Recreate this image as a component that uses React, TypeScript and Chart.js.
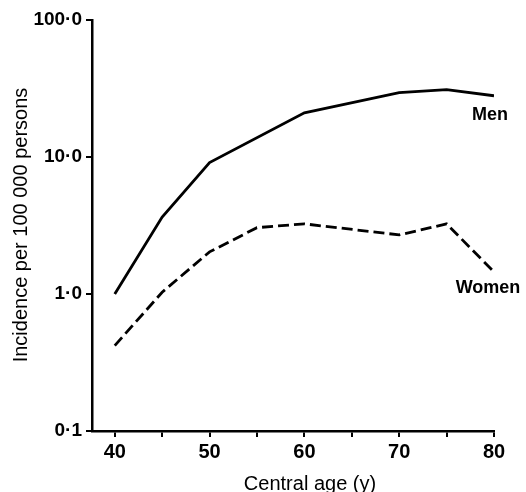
import React, { useEffect, useRef } from "react";
import { Chart, registerables } from "chart.js";

Chart.register(...registerables);

const ages = [40, 45, 50, 55, 60, 65, 70, 75, 80];
const menValues: (number | null)[] = [1.0, 3.65, 9.1, null, 21, null, 29.5, 31, 28];
const womenValues: (number | null)[] = [0.42, 1.03, 2.03, 3.05, 3.25, null, 2.7, 3.25, 1.45];
const xTickValues = [40, 45, 50, 55, 60, 65, 70, 75, 80];
const xMajorTicks = [40, 50, 60, 70, 80];
const yTickValues = [0.1, 1, 10, 100];
const yTickLabels = ["0·1", "1·0", "10·0", "100·0"];
const seriesNames = ["Men", "Women"];
const xTitle = "Central age (y)";
const yTitle = "Incidence per 100 000 persons";

const FONT = "'Liberation Sans', Arial, Helvetica, sans-serif";

export default function App() {
  const ref = useRef<HTMLCanvasElement | null>(null);

  useEffect(() => {
    document.body.style.margin = "0";
    const canvas = ref.current;
    if (!canvas) return;

    const labelPlugin = {
      id: "labels",
      afterDraw(chart: any) {
        const ctx = chart.ctx;
        const xs = chart.scales.x;
        const ys = chart.scales.y;
        ctx.save();
        ctx.fillStyle = "#000";
        ctx.textAlign = "center";
        ctx.textBaseline = "middle";
        ctx.font = `bold 18px ${FONT}`;
        const lastX = xs.getPixelForValue(ages[ages.length - 1]);
        const menY = ys.getPixelForValue(menValues[menValues.length - 1] as number);
        const womenY = ys.getPixelForValue(womenValues[womenValues.length - 1] as number);
        ctx.fillText(seriesNames[0], lastX - 4, menY + 19);
        ctx.fillText(seriesNames[1], lastX - 6, womenY + 16);
        ctx.font = `20px ${FONT}`;
        ctx.fillText(xTitle, 310, 484);
        ctx.translate(21, 225);
        ctx.rotate(-Math.PI / 2);
        ctx.fillText(yTitle, 0, 0);
        ctx.restore();
      },
    };

    const chart = new Chart(canvas, {
      type: "line",
      data: {
        datasets: [
          {
            label: seriesNames[0],
            data: ages.map((a, i) => ({ x: a, y: menValues[i] })) as any,
            borderColor: "#000",
            borderWidth: 2.8,
            pointRadius: 0,
            tension: 0,
            spanGaps: true,
          },
          {
            label: seriesNames[1],
            data: ages.map((a, i) => ({ x: a, y: womenValues[i] })) as any,
            borderColor: "#000",
            borderWidth: 2.8,
            borderDash: [11, 5],
            pointRadius: 0,
            tension: 0,
            spanGaps: true,
          },
        ],
      },
      options: {
        responsive: false,
        animation: false,
        layout: { padding: { top: 20, right: 32, left: 0, bottom: 0 } },
        plugins: { legend: { display: false }, tooltip: { enabled: false } },
        scales: {
          x: {
            type: "linear",
            min: 37.6,
            max: 80,
            afterBuildTicks: (s: any) => {
              s.ticks = xTickValues.map((v) => ({ value: v }));
            },
            afterFit: (s: any) => {
              s.height = 61;
            },
            ticks: {
              autoSkip: false,
              maxRotation: 0,
              padding: 3,
              color: "#000",
              font: { family: FONT, size: 20, weight: "bold" },
              callback: (v: any) => (xMajorTicks.includes(Number(v)) ? String(v) : ""),
            },
            grid: {
              drawOnChartArea: false,
              drawTicks: true,
              tickLength: 6,
              color: "#000",
              lineWidth: 2,
            },
            border: { display: true, color: "#000", width: 2.5 },
          },
          y: {
            type: "logarithmic",
            min: 0.1,
            max: 100,
            afterBuildTicks: (s: any) => {
              s.ticks = yTickValues.map((v) => ({ value: v }));
            },
            afterFit: (s: any) => {
              s.width = 92;
            },
            ticks: {
              autoSkip: false,
              padding: 4,
              color: "#000",
              font: { family: FONT, size: 19, weight: "bold" },
              callback: (v: any) => {
                const i = yTickValues.findIndex((t) => Math.abs(t - Number(v)) < 1e-9);
                return i >= 0 ? yTickLabels[i] : "";
              },
            },
            grid: {
              drawOnChartArea: false,
              drawTicks: true,
              tickLength: 6,
              color: "#000",
              lineWidth: 2,
            },
            border: { display: true, color: "#000", width: 2.5 },
          },
        },
      },
      plugins: [labelPlugin],
    });

    return () => chart.destroy();
  }, []);

  return <canvas ref={ref} width={526} height={492} style={{ display: "block" }} />;
}
